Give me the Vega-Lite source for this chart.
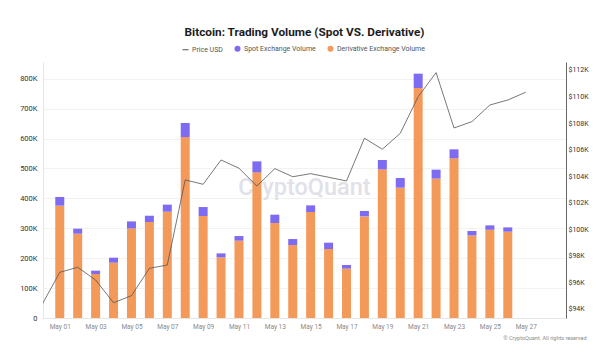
{
  "$schema": "https://vega.github.io/schema/vega-lite/v6.json",
  "width": 523,
  "height": 256,
  "autosize": {"type": "none"},
  "padding": {"left": 43, "top": 62, "right": 38, "bottom": 35},
  "background": "#ffffff",
  "title": {
    "text": "Bitcoin: Trading Volume (Spot VS. Derivative)",
    "anchor": "middle",
    "frame": "group",
    "font": "Roboto",
    "fontSize": 11.8,
    "fontWeight": "bold",
    "color": "#1c1c1c",
    "offset": 6
  },
  "datasets": {
    "volume": [
      {"date": "2025-05-01", "type": "Derivative Exchange Volume", "value": 375600},
      {"date": "2025-05-01", "type": "Spot Exchange Volume", "value": 29100},
      {"date": "2025-05-02", "type": "Derivative Exchange Volume", "value": 281900},
      {"date": "2025-05-02", "type": "Spot Exchange Volume", "value": 16800},
      {"date": "2025-05-03", "type": "Derivative Exchange Volume", "value": 147200},
      {"date": "2025-05-03", "type": "Spot Exchange Volume", "value": 11000},
      {"date": "2025-05-04", "type": "Derivative Exchange Volume", "value": 185000},
      {"date": "2025-05-04", "type": "Spot Exchange Volume", "value": 16700},
      {"date": "2025-05-05", "type": "Derivative Exchange Volume", "value": 299700},
      {"date": "2025-05-05", "type": "Spot Exchange Volume", "value": 23300},
      {"date": "2025-05-06", "type": "Derivative Exchange Volume", "value": 321000},
      {"date": "2025-05-06", "type": "Spot Exchange Volume", "value": 21000},
      {"date": "2025-05-07", "type": "Derivative Exchange Volume", "value": 355500},
      {"date": "2025-05-07", "type": "Spot Exchange Volume", "value": 23500},
      {"date": "2025-05-08", "type": "Derivative Exchange Volume", "value": 605000},
      {"date": "2025-05-08", "type": "Spot Exchange Volume", "value": 47000},
      {"date": "2025-05-09", "type": "Derivative Exchange Volume", "value": 341000},
      {"date": "2025-05-09", "type": "Spot Exchange Volume", "value": 30000},
      {"date": "2025-05-10", "type": "Derivative Exchange Volume", "value": 202700},
      {"date": "2025-05-10", "type": "Spot Exchange Volume", "value": 13300},
      {"date": "2025-05-11", "type": "Derivative Exchange Volume", "value": 258500},
      {"date": "2025-05-11", "type": "Spot Exchange Volume", "value": 15500},
      {"date": "2025-05-12", "type": "Derivative Exchange Volume", "value": 487000},
      {"date": "2025-05-12", "type": "Spot Exchange Volume", "value": 36700},
      {"date": "2025-05-13", "type": "Derivative Exchange Volume", "value": 317700},
      {"date": "2025-05-13", "type": "Spot Exchange Volume", "value": 27800},
      {"date": "2025-05-14", "type": "Derivative Exchange Volume", "value": 244000},
      {"date": "2025-05-14", "type": "Spot Exchange Volume", "value": 20000},
      {"date": "2025-05-15", "type": "Derivative Exchange Volume", "value": 354500},
      {"date": "2025-05-15", "type": "Spot Exchange Volume", "value": 22100},
      {"date": "2025-05-16", "type": "Derivative Exchange Volume", "value": 230800},
      {"date": "2025-05-16", "type": "Spot Exchange Volume", "value": 21000},
      {"date": "2025-05-17", "type": "Derivative Exchange Volume", "value": 165000},
      {"date": "2025-05-17", "type": "Spot Exchange Volume", "value": 12300},
      {"date": "2025-05-18", "type": "Derivative Exchange Volume", "value": 339800},
      {"date": "2025-05-18", "type": "Spot Exchange Volume", "value": 18100},
      {"date": "2025-05-19", "type": "Derivative Exchange Volume", "value": 497000},
      {"date": "2025-05-19", "type": "Spot Exchange Volume", "value": 31400},
      {"date": "2025-05-20", "type": "Derivative Exchange Volume", "value": 435800},
      {"date": "2025-05-20", "type": "Spot Exchange Volume", "value": 32400},
      {"date": "2025-05-21", "type": "Derivative Exchange Volume", "value": 769000},
      {"date": "2025-05-21", "type": "Spot Exchange Volume", "value": 48000},
      {"date": "2025-05-22", "type": "Derivative Exchange Volume", "value": 466000},
      {"date": "2025-05-22", "type": "Spot Exchange Volume", "value": 30000},
      {"date": "2025-05-23", "type": "Derivative Exchange Volume", "value": 534000},
      {"date": "2025-05-23", "type": "Spot Exchange Volume", "value": 30000},
      {"date": "2025-05-24", "type": "Derivative Exchange Volume", "value": 276000},
      {"date": "2025-05-24", "type": "Spot Exchange Volume", "value": 15000},
      {"date": "2025-05-25", "type": "Derivative Exchange Volume", "value": 295000},
      {"date": "2025-05-25", "type": "Spot Exchange Volume", "value": 14700},
      {"date": "2025-05-26", "type": "Derivative Exchange Volume", "value": 288600},
      {"date": "2025-05-26", "type": "Spot Exchange Volume", "value": 14400}
    ],
    "price": [
      {"date": "2025-04-30", "price": 94300},
      {"date": "2025-05-01", "price": 96760},
      {"date": "2025-05-02", "price": 97140},
      {"date": "2025-05-03", "price": 96180},
      {"date": "2025-05-04", "price": 94470},
      {"date": "2025-05-05", "price": 95000},
      {"date": "2025-05-06", "price": 97060},
      {"date": "2025-05-07", "price": 97310},
      {"date": "2025-05-08", "price": 103720},
      {"date": "2025-05-09", "price": 103390},
      {"date": "2025-05-10", "price": 105220},
      {"date": "2025-05-11", "price": 104600},
      {"date": "2025-05-12", "price": 103260},
      {"date": "2025-05-13", "price": 104570},
      {"date": "2025-05-14", "price": 103960},
      {"date": "2025-05-15", "price": 104190},
      {"date": "2025-05-16", "price": 103920},
      {"date": "2025-05-17", "price": 103640},
      {"date": "2025-05-18", "price": 106860},
      {"date": "2025-05-19", "price": 106030},
      {"date": "2025-05-20", "price": 107230},
      {"date": "2025-05-21", "price": 109990},
      {"date": "2025-05-22", "price": 111800},
      {"date": "2025-05-23", "price": 107630},
      {"date": "2025-05-24", "price": 108110},
      {"date": "2025-05-25", "price": 109360},
      {"date": "2025-05-26", "price": 109740},
      {"date": "2025-05-27", "price": 110320}
    ],
    "watermark": [{"label": "CryptoQuant"}]
  },
  "encoding": {
    "x": {
      "field": "date",
      "type": "temporal",
      "scale": {
        "type": "utc",
        "domain": [
          {"year": 2025, "month": 4, "date": 30, "hours": 8, "minutes": 14, "utc": true},
          {"year": 2025, "month": 5, "date": 28, "hours": 23, "minutes": 16, "utc": true}
        ],
        "nice": false
      },
      "axis": {
        "title": "© CryptoQuant. All rights reserved",
        "titleFont": "Roboto",
        "titleFontSize": 5.5,
        "titleFontWeight": "normal",
        "titleColor": "#8a8a8a",
        "titleAlign": "right",
        "titleBaseline": "top",
        "titleX": 543,
        "titleY": 17,
        "labelExpr": "utcFormat(datum.value, '%b %d')",
        "values": [
          {"year": 2025, "month": 5, "date": 1, "utc": true},
          {"year": 2025, "month": 5, "date": 3, "utc": true},
          {"year": 2025, "month": 5, "date": 5, "utc": true},
          {"year": 2025, "month": 5, "date": 7, "utc": true},
          {"year": 2025, "month": 5, "date": 9, "utc": true},
          {"year": 2025, "month": 5, "date": 11, "utc": true},
          {"year": 2025, "month": 5, "date": 13, "utc": true},
          {"year": 2025, "month": 5, "date": 15, "utc": true},
          {"year": 2025, "month": 5, "date": 17, "utc": true},
          {"year": 2025, "month": 5, "date": 19, "utc": true},
          {"year": 2025, "month": 5, "date": 21, "utc": true},
          {"year": 2025, "month": 5, "date": 23, "utc": true},
          {"year": 2025, "month": 5, "date": 25, "utc": true},
          {"year": 2025, "month": 5, "date": 27, "utc": true}
        ],
        "labelFont": "Roboto",
        "labelFontSize": 6.5,
        "labelColor": "#8a8a8a",
        "labelPadding": 5,
        "ticks": false,
        "grid": false,
        "domainColor": "#e6e6e6",
        "labelFlush": false,
        "labelOverlap": false
      }
    }
  },
  "layer": [
    {
      "layer": [
        {
          "data": {"name": "watermark"},
          "mark": {"type": "text", "font": "Roboto", "fontSize": 23.5, "fontWeight": 500, "color": "#e1e1e9", "align": "center", "baseline": "middle", "dy": -2},
          "encoding": {
            "x": null,
            "text": {"field": "label"}
          }
        },
        {
          "data": {"name": "volume"},
          "mark": {"type": "bar", "width": 9},
          "encoding": {
            "y": {
              "field": "value",
              "type": "quantitative",
              "stack": "zero",
              "scale": {"domain": [0, 856000], "nice": false},
              "axis": {
                "title": null,
                "values": [0, 100000, 200000, 300000, 400000, 500000, 600000, 700000, 800000],
                "labelExpr": "datum.value == 0 ? '0' : format(datum.value / 1000, 'd') + 'K'",
                "labelFont": "Roboto",
                "labelFontSize": 7.5,
                "labelColor": "#333333",
                "labelPadding": 6,
                "labelOverlap": false,
                "ticks": false,
                "grid": true,
                "gridColor": "#f2f2f2",
                "domainColor": "#e6e6e6"
              }
            },
            "color": {
              "field": "type",
              "type": "nominal",
              "scale": {
                "domain": ["Price USD", "Spot Exchange Volume", "Derivative Exchange Volume"],
                "range": ["#555555", "#7D6CF2", "#F3995A"]
              },
              "legend": {
                "title": null,
                "orient": "none",
                "direction": "horizontal",
                "legendX": 139,
                "legendY": -17,
                "labelFont": "Roboto",
                "labelFontSize": 7,
                "labelColor": "#555555",
                "symbolSize": 36,
                "columnPadding": 9,
                "labelOffset": 3,
                "encode": {
                  "symbols": {
                    "update": {
                      "shape": {"signal": "datum.value === 'Price USD' ? 'stroke' : 'circle'"},
                      "fill": {"signal": "scale('color', datum.value)"},
                      "stroke": {"signal": "datum.value === 'Price USD' ? '#555555' : 'transparent'"},
                      "strokeWidth": {"value": 1}
                    }
                  }
                }
              }
            },
            "order": {"field": "type", "sort": "ascending"}
          }
        }
      ]
    },
    {
      "data": {"name": "price"},
      "mark": {"type": "line", "color": "#555555", "strokeWidth": 0.8, "clip": true},
      "encoding": {
        "y": {
          "field": "price",
          "type": "quantitative",
          "scale": {"domain": [93320, 112600], "nice": false, "zero": false},
          "axis": {
            "orient": "right",
            "title": null,
            "values": [94000, 96000, 98000, 100000, 102000, 104000, 106000, 108000, 110000, 112000],
            "labelExpr": "'$' + format(datum.value / 1000, 'd') + 'K'",
            "labelFont": "Roboto",
            "labelFontSize": 7,
            "labelColor": "#333333",
            "labelPadding": 2,
            "labelOverlap": false,
            "ticks": false,
            "grid": false,
            "domainColor": "#666666"
          }
        }
      }
    }
  ],
  "resolve": {"scale": {"y": "independent"}},
  "config": {
    "view": {"stroke": null}
  }
}
